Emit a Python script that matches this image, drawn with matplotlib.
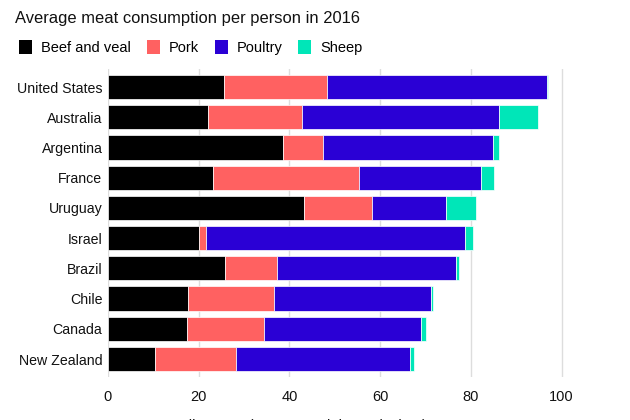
import numpy as np
import matplotlib.pyplot as plt
from matplotlib.patches import Patch

# ------------------------------------------------------------
# Data (kg per person, 2016)
# ------------------------------------------------------------
countries = ["United States", "Australia", "Argentina", "France", "Uruguay",
             "Israel", "Brazil", "Chile", "Canada", "New Zealand"]
beef = [25.5, 22.1, 38.5, 23.2, 43.2, 20.1, 25.7, 17.7, 17.4, 10.4]
pork = [22.8, 20.6, 9.0, 32.2, 14.9, 1.4, 11.6, 18.8, 16.9, 17.9]
poultry = [48.4, 43.5, 37.4, 26.9, 16.4, 57.1, 39.5, 34.8, 34.8, 38.2]
sheep = [0.3, 8.5, 1.3, 2.8, 6.6, 1.8, 0.5, 0.4, 0.9, 0.9]

series_names = ["Beef and veal", "Pork", "Poultry", "Sheep"]
colors = ["#000000", "#ff6161", "#2a00d5", "#00e6b8"]
xticks = [0, 20, 40, 60, 80, 100]


def main():
    plt.rcParams["font.family"] = ["Liberation Sans", "DejaVu Sans"]

    fig = plt.figure(figsize=(6.3, 4.2), dpi=100)
    ax = fig.add_axes([0.1714, 0.102, 0.949 - 0.1714, 0.836 - 0.102])

    y = np.arange(len(countries))
    left = np.zeros(len(countries))
    for vals, c in zip([beef, pork, poultry, sheep], colors):
        vals = np.array(vals)
        ax.barh(y, vals, left=left, height=0.8, color=c,
                edgecolor="white", linewidth=0.5, zorder=3)
        left += vals

    ax.set_ylim(len(countries) - 0.4, -0.6)
    ax.set_xlim(0, 108)
    ax.set_yticks(y)
    ax.set_yticklabels(countries, fontsize=10.2, color="#111111")
    ax.set_xticks(xticks)
    ax.set_xticklabels([str(t) for t in xticks], fontsize=10.5, color="#111111")
    ax.tick_params(axis="both", length=0)
    ax.tick_params(axis="x", pad=9)
    ax.tick_params(axis="y", pad=4)

    for s in ax.spines.values():
        s.set_visible(False)
    ax.grid(axis="x", color="#dddddd", linewidth=1, zorder=0)
    ax.set_axisbelow(True)

    ax.set_xlabel("Kilograms (carcass weight equivalent)", fontsize=10.5,
                  color="#111111")
    ax.xaxis.set_label_coords(0.398, -0.135)

    fig.text(0.024, 0.955, "Average meat consumption per person in 2016",
             fontsize=11.9, color="#111111", va="center")

    handles = [Patch(facecolor=c, edgecolor="none") for c in colors]
    fig.legend(handles, series_names, loc="center left",
               bbox_to_anchor=(0.0205, 0.888), ncol=4, frameon=False,
               fontsize=10.5, handlelength=0.9, handleheight=1.1,
               handletextpad=0.6, columnspacing=1.1, borderaxespad=0)

    fig.savefig("out.png", dpi=100)


if __name__ == "__main__":
    main()
